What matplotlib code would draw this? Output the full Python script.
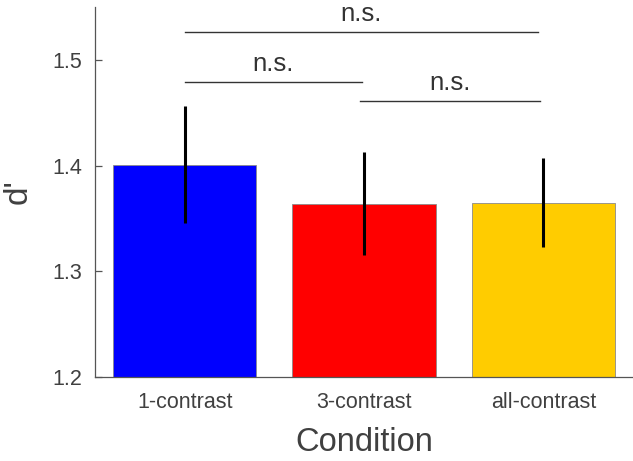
import matplotlib
matplotlib.use("Agg")
import matplotlib.pyplot as plt

categories = ["1-contrast", "3-contrast", "all-contrast"]
means = [1.401, 1.364, 1.365]
errors = [0.055, 0.049, 0.042]
colors = ["#0000FF", "#FF0000", "#FFCC00"]
yticks = [1.2, 1.3, 1.4, 1.5]
# significance brackets: (x_start, x_end, y, label)
sig_x1 = [1.0, 1.0, 1.98]
sig_x2 = [2.97, 1.99, 2.98]
sig_y = [1.526, 1.479, 1.461]
sig_labels = ["n.s.", "n.s.", "n.s."]

plt.rcParams["font.family"] = ["Liberation Sans", "DejaVu Sans"]
txt = "#404040"
axc = "#555555"

fig = plt.figure(figsize=(6.33, 4.61), dpi=100)
ax = fig.add_axes([95 / 633, 84 / 461, 538 / 633, 370 / 461])

x = list(range(1, len(categories) + 1))
ax.bar(x, means, width=0.8, color=colors, edgecolor="#8a8a8a", linewidth=0.6, zorder=2)
ax.errorbar(x, means, yerr=errors, fmt="none", ecolor="black", elinewidth=2.2, capsize=0, zorder=3)

for x1, x2, y, lab in zip(sig_x1, sig_x2, sig_y, sig_labels):
    ax.plot([x1, x2], [y, y], color="#333333", linewidth=1.0, zorder=3, clip_on=False)
    ax.text((x1 + x2) / 2, y + 0.006, lab, ha="center", va="bottom", fontsize=18.5, color="#333333")

ax.set_xlim(0.5, 3.5)
ax.set_ylim(1.2, 1.55)
ax.set_yticks(yticks)
ax.set_yticklabels([f"{v:.1f}" for v in yticks])
ax.set_xticks(x)
ax.set_xticklabels(categories)

for s in ["top", "right"]:
    ax.spines[s].set_visible(False)
for s in ["left", "bottom"]:
    ax.spines[s].set_color(axc)
    ax.spines[s].set_linewidth(0.9)

ax.tick_params(axis="y", direction="in", length=5, width=0.9, color=axc, labelsize=15.5, labelcolor=txt, pad=9)
ax.tick_params(axis="x", length=0, labelsize=15.5, labelcolor=txt, pad=11)

ax.set_xlabel("Condition", fontsize=23.5, color=txt, labelpad=10)
ax.set_ylabel("d'", fontsize=24, color=txt, labelpad=14)

fig.savefig("out.png", dpi=100)
